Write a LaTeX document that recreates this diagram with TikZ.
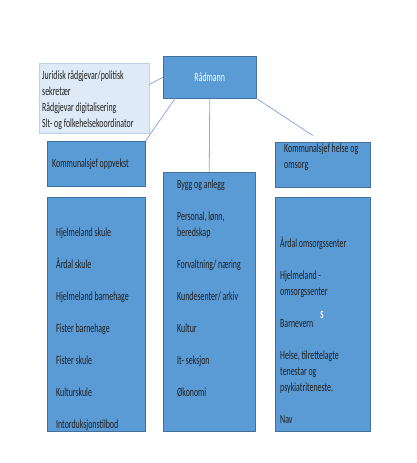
\documentclass[tikz,border=0pt]{standalone}
\usepackage{fontspec}
\setmainfont[FakeStretch=0.63]{Carlito}
\usepackage{tikz}
\usetikzlibrary{calc}

\definecolor{blaa}{HTML}{5B9BD5}
\definecolor{kant}{HTML}{41719C}
\definecolor{stabfyll}{HTML}{DEEBF7}
\definecolor{stabkant}{HTML}{BDD0E9}
\definecolor{linje}{HTML}{8EA9DB}
\definecolor{tekst}{HTML}{1E1E1E}

\begin{document}
\begin{tikzpicture}[
  x=1pt, y=-1pt,
  box/.style={draw=kant, line width=0.5pt, fill=blaa, inner sep=0pt, anchor=north west},
  stabbox/.style={draw=stabkant, line width=0.6pt, fill=stabfyll, inner sep=0pt, anchor=north west},
  txt/.style={font=\fontsize{12.5}{16}\selectfont, text=tekst, inner sep=0pt, align=left},
  kobling/.style={draw=linje, line width=0.8pt}
]
\useasboundingbox (0,0) rectangle (416,463);

% ---------- Top ----------
\node[box, minimum width=93pt, minimum height=42pt, text=white,
  font=\fontsize{12.5}{16}\selectfont] (radmann) at (163,56) {Rådmann};
\node[stabbox, minimum width=110pt, minimum height=70pt] (stab) at (39,63) {};
\node[txt, anchor=north west] (stabtekst) at ([xshift=3pt, yshift=-7pt]stab.north west)
  {Juridisk rådgjevar/politisk\\ sekretær\\ Rådgjevar digitalisering\\ Slt- og folkehelsekoordinator};

% ---------- Kommunalsjefar ----------
\node[box, minimum width=98pt, minimum height=45pt] (oppvekst) at (47,141) {};
\node[txt, anchor=west] (oppvekstnamn) at ([xshift=5pt]oppvekst.west) {Kommunalsjef oppvekst};
\node[box, minimum width=95pt, minimum height=45pt] (helse) at (275,142) {};
\node[txt, anchor=north west] (helsenamn) at ([xshift=9pt, yshift=-2pt]helse.north west)
  {Kommunalsjef helse og\\ omsorg};

% ---------- Einingar ----------
\node[box, minimum width=98pt, minimum height=234pt] (oppvekstliste) at (47,197) {};
\node[txt, anchor=north west] (skular) at ([xshift=9pt, yshift=-31pt]oppvekstliste.north west)
  {Hjelmeland skule\\[16pt] Årdal skule\\[16pt] Hjelmeland barnehage\\[16pt] Fister barnehage\\[16pt]
   Fister skule\\[16pt] Kulturskule\\[16pt] Intorduksjonstilbod};

\node[box, minimum width=92pt, minimum height=259pt] (stabsliste) at (163,172) {};
\node[txt, anchor=north west] (stabseiningar) at ([xshift=14pt, yshift=-8pt]stabsliste.north west)
  {Bygg og anlegg\\[16pt] Personal, lønn,\\ beredskap\\[16pt] Forvaltning/ næring\\[16pt]
   Kundesenter/ arkiv\\[16pt] Kultur\\[16pt] It- seksjon\\[16pt] Økonomi};

\node[box, minimum width=95pt, minimum height=234pt] (helseliste) at (275,197) {};
\node[txt, anchor=north west] (helseeiningar) at ([xshift=5pt, yshift=-40pt]helseliste.north west)
  {Årdal omsorgssenter\\[16pt] Hjelmeland -\\ omsorgssenter\\[16pt] Barnevern\\[16pt]
   Helse, tilrettelagte\\ tenestar og\\ psykiatriteneste.\\[16pt] Nav};
\node[txt, text=white, font=\fontsize{11}{12}\selectfont\bfseries] (s) at ([xshift=47pt, yshift=-118pt]helseliste.north west) {S};

% ---------- Linjer ----------
\draw[kobling] ([yshift=14pt]stab.east) -- (radmann.west);
\draw[kobling] ([xshift=12pt]radmann.south west) -- (oppvekst.north east);
\draw[kobling] (radmann.south) -- (stabsliste.north);
\draw[kobling] (radmann.south east) -- ($(radmann.south east)!0.85!(helse.north)$);
\end{tikzpicture}
\end{document}
